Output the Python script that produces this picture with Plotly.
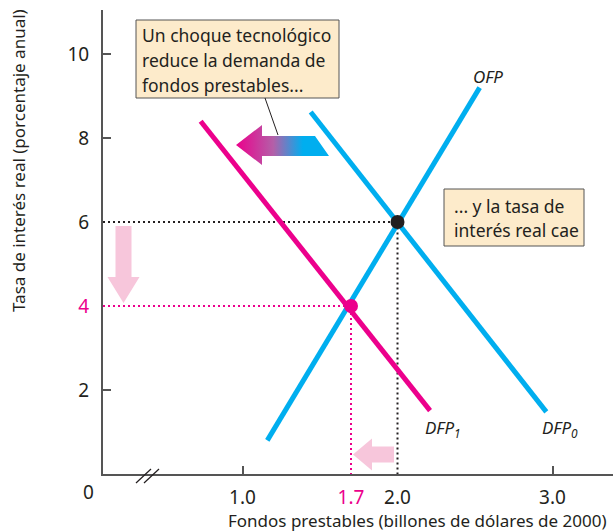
import plotly.graph_objects as go

# --- data ---
ofp_x = [1.16, 2.53]          # oferta de fondos prestables
ofp_y = [0.8, 9.2]
dfp0_x = [1.44, 2.96]         # demanda inicial
dfp0_y = [8.62, 1.48]
dfp1_x = [0.73, 2.21]         # demanda tras el choque
dfp1_y = [8.40, 1.51]

eq0 = (2.0, 6.0)
eq1 = (1.7, 4.0)

y_ticks = [2, 4, 6, 8, 10]
x_ticks = [1.0, 1.7, 2.0, 3.0]

PINK = "#EC008C"
BLUE = "#00AEEF"
DARK = "#231F20"
AXIS = "#555555"
SOFT_PINK = "#F7C6DB"
BOX = "#FDEBCB"
FONT = "Noto Sans"

# plot area in pixels
L, T, W, H = 103, 10, 510, 464
X0, X1 = 0.1, 0.1 + W / 155.0
Y0, Y1 = 0.0, H / 42.0


def px(x):
    return (x - L) / W


def py(y):
    return (T + H - y) / H


def dx(x):
    return X0 + (x - L) / 155.0


def dy(y):
    return (T + H - y) / 42.0


fig = go.Figure()

# dotted guide lines
fig.add_trace(go.Scatter(x=[X0, eq0[0], eq0[0]], y=[eq0[1], eq0[1], 0], mode="lines",
                         line=dict(color=DARK, width=2, dash="2px,3px"), hoverinfo="skip"))
fig.add_trace(go.Scatter(x=[X0, eq1[0], eq1[0]], y=[eq1[1], eq1[1], 0], mode="lines",
                         line=dict(color=PINK, width=2, dash="2px,3px"), hoverinfo="skip"))

# gradient arrow (shift of demand)
ax = [dx(236), dx(262), dx(262), dx(315), dx(329), dx(262), dx(262), dx(236)]
ay = [dy(145), dy(125), dy(136), dy(136), dy(156), dy(156), dy(165), dy(145)]
fig.add_trace(go.Scatter(x=ax, y=ay, mode="lines", fill="toself", line=dict(width=0),
                         fillgradient=dict(type="horizontal",
                                           colorscale=[[0, PINK], [0.4, "#B45FA8"],
                                                       [0.72, BLUE], [1, BLUE]]),
                         hoverinfo="skip"))

# curves
fig.add_trace(go.Scatter(x=ofp_x, y=ofp_y, mode="lines", line=dict(color=BLUE, width=5)))
fig.add_trace(go.Scatter(x=dfp0_x, y=dfp0_y, mode="lines", line=dict(color=BLUE, width=5)))
fig.add_trace(go.Scatter(x=dfp1_x, y=dfp1_y, mode="lines", line=dict(color=PINK, width=5)))

# equilibrium points
fig.add_trace(go.Scatter(x=[eq0[0]], y=[eq0[1]], mode="markers",
                         marker=dict(color=DARK, size=14)))
fig.add_trace(go.Scatter(x=[eq1[0]], y=[eq1[1]], mode="markers",
                         marker=dict(color=PINK, size=14)))

shapes = []
# soft pink arrows
vx = 123.5
shapes.append(dict(type="path", xref="x", yref="y", fillcolor=SOFT_PINK, line=dict(width=0),
                   path="M {a},{t} L {b},{t} L {b},{h} L {c},{h} L {m},{tip} L {d},{h} L {a},{h} Z".format(
                       a=dx(vx - 8), b=dx(vx + 8), c=dx(vx + 16), d=dx(vx - 16), m=dx(vx),
                       t=dy(226), h=dy(277), tip=dy(303))))
hy = 454.5
shapes.append(dict(type="path", xref="x", yref="y", fillcolor=SOFT_PINK, line=dict(width=0),
                   path="M {r},{a} L {hb},{a} L {hb},{c} L {tip},{m} L {hb},{d} L {hb},{b} L {r},{b} Z".format(
                       r=dx(394), hb=dx(372), tip=dx(353),
                       a=dy(hy - 8), b=dy(hy + 8), c=dy(hy - 16), d=dy(hy + 16), m=dy(hy))))

# text boxes
shapes.append(dict(type="rect", xref="paper", yref="paper", x0=px(136), x1=px(339),
                   y0=py(98), y1=py(20), fillcolor=BOX, line=dict(color=AXIS, width=1)))
shapes.append(dict(type="line", xref="paper", yref="paper", x0=px(265), y0=py(98),
                   x1=px(278), y1=py(135), line=dict(color=DARK, width=1)))
shapes.append(dict(type="rect", xref="paper", yref="paper", x0=px(444), x1=px(584),
                   y0=py(246), y1=py(189), fillcolor=BOX, line=dict(color=AXIS, width=1)))

# axis break mark
for s in (0, 8):
    shapes.append(dict(type="line", xref="paper", yref="paper", x0=px(136 + s), y0=py(483),
                       x1=px(151 + s), y1=py(469), line=dict(color=DARK, width=1.2)))

annotations = []


def note(text, x, y, xanchor="left", size=15, color=DARK, italic=False):
    t = "<i>" + text + "</i>" if italic else text
    annotations.append(dict(text=t, x=px(x), y=py(y), xref="paper", yref="paper",
                            xanchor=xanchor, yanchor="middle", showarrow=False,
                            font=dict(family=FONT, size=size, color=color)))


for i, line in enumerate(["Un choque tecnológico", "reduce la demanda de", "fondos prestables..."]):
    note(line, 140, 35 + 25 * i, size=17.5)
for i, line in enumerate(["... y la tasa de", "interés real cae"]):
    note(line, 452, 206 + 24 * i, size=17.5)

note("OFP", 488, 76, xanchor="center", size=17, italic=True)
note("DFP<sub>1</sub>", 443, 428, xanchor="center", size=17, italic=True)
note("DFP<sub>0</sub>", 560, 428, xanchor="center", size=17, italic=True)
note("0", 88, 492, xanchor="center", size=19)
note("Fondos prestables (billones de dólares de 2000)", 609, 520, xanchor="right", size=17)
annotations.append(dict(text="Tasa de interés real (porcentaje anual)", x=px(18), y=py(161),
                        xref="paper", yref="paper", xanchor="center", yanchor="middle",
                        textangle=-90, showarrow=False,
                        font=dict(family=FONT, size=17, color=DARK)))


def tick_label(v, fmt):
    s = fmt.format(v)
    if v in (eq1[0], eq1[1]):
        return '<span style="color:%s">%s</span>' % (PINK, s)
    return s


fig.update_layout(
    width=613, height=532,
    margin=dict(l=L, r=613 - L - W, t=T, b=532 - T - H),
    plot_bgcolor="white", paper_bgcolor="white",
    showlegend=False,
    shapes=shapes, annotations=annotations,
    font=dict(family=FONT, size=19, color=DARK),
    xaxis=dict(range=[X0, X1], showgrid=False, zeroline=False,
               showline=True, linecolor=AXIS, linewidth=2,
               tickvals=x_ticks, ticktext=[tick_label(v, "{:.1f}") for v in x_ticks],
               ticks="", ticklabelstandoff=5,
               minor=dict(tickvals=[1.0, 3.0], ticks="inside", ticklen=8,
                          tickcolor=AXIS, tickwidth=2)),
    yaxis=dict(range=[Y0, Y1], showgrid=False, zeroline=False,
               showline=True, linecolor=AXIS, linewidth=2,
               tickvals=y_ticks, ticktext=[tick_label(v, "{:d}") for v in y_ticks],
               ticks="", ticklabelstandoff=8,
               minor=dict(tickvals=[2, 8, 10], ticks="inside", ticklen=8,
                          tickcolor=AXIS, tickwidth=2)),
)

# the page body has a default 8px margin; drop it so the figure fills the window
fig.write_html("out.html", config={"displayModeBar": False},
               post_script="document.body.style.margin='0';")
